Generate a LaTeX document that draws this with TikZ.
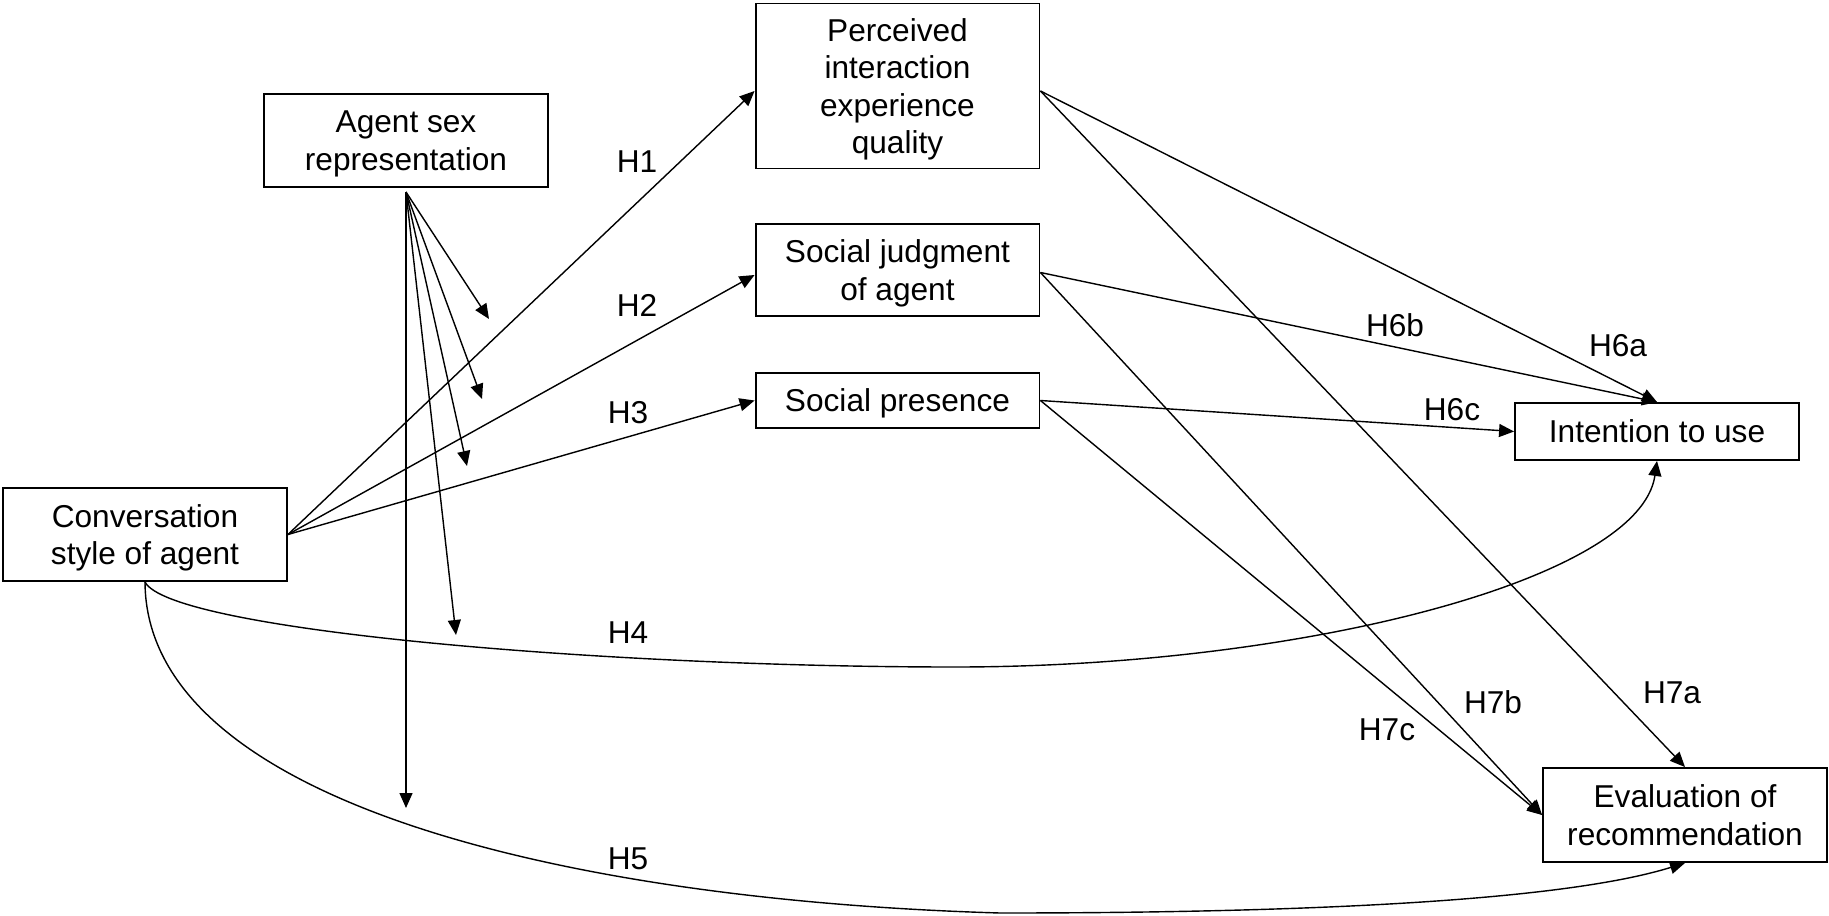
\documentclass[tikz,border=0pt]{standalone}
\usepackage{fontspec}
\setmainfont{Liberation Sans}
\usepackage{tikz}
\usetikzlibrary{arrows.meta}

\tikzset{
  box/.style={draw, line width=1.1pt, minimum width=5.68cm, align=center,
    inner sep=2pt, text depth=0pt, font=\fontsize{18}{21.2}\selectfont},
  hyp/.style={font=\fontsize{18}{21.2}\selectfont},
  arr/.style={line width=0.8pt, -{Triangle[length=0.3cm,width=0.26cm]}}
}

\begin{document}
\begin{tikzpicture}[x=0.02cm, y=-0.02cm]
    \useasboundingbox (0,0) rectangle (1829,916);
        % Boxes
        \node[box, minimum height=1.86cm] (sex) at (406,140.5) {Agent sex\\representation};
        \node[box, minimum height=1.86cm] (conv) at (145,534.5) {Conversation\\style of agent};
        \node[box, minimum height=3.3cm] (piq) at (897.5,86) {Perceived\\interaction\\experience\\quality};
        \node[box, minimum height=1.84cm] (sj) at (897.5,270) {Social judgment\\of agent};
        \node[box, minimum height=1.1cm] (sp) at (897.5,400.5) {Social presence};
        \node[box, minimum height=1.14cm] (itu) at (1657,431.5) {Intention to use};
        \node[box, minimum height=1.88cm] (eval) at (1685,815) {Evaluation of\\recommendation};
        % Paths from conversation style
        \draw[arr] (conv.east) -- (piq.182);
        \draw[arr] (conv.east) -- (sj.182);
        \draw[arr] (conv.east) -- (sp.west);
        \draw[arr] (conv.south) .. controls (170,630) and (600,667) .. (955,667)
            .. controls (1300,667) and (1640,580) .. (itu.south);
        \draw[arr] (conv.south) .. controls (146,800) and (560,900) .. (1000,913)
            .. controls (1250,913) and (1550,905) .. (eval.south);
        % Paths to outcomes
        \draw[arr] (piq.-2) -- (itu.north);
        \draw[arr] (piq.-2) -- (eval.north);
        \draw[arr] (sj.-1) -- (itu.north);
        \draw[arr] (sj.-1) -- (eval.west);
        \draw[arr] (sp.east) -- (itu.west);
        \draw[arr] (sp.east) -- (eval.west);
        % Moderation by agent sex
        \coordinate (msrc) at (406,192);
        \coordinate (m1) at (489,319);
        \coordinate (m2) at (482,399);
        \coordinate (m3) at (467,466);
        \coordinate (m4) at (456,635);
        \coordinate (m5) at (406,808);
        \foreach \m in {m1,m2,m3,m4,m5}
            \draw[arr] (msrc) -- (\m);
        % Hypothesis labels
        \node[hyp] (h1) at (637,162) {H1};
        \node[hyp] (h2) at (637,305) {H2};
        \node[hyp] (h3) at (628,413) {H3};
        \node[hyp] (h4) at (628,633) {H4};
        \node[hyp] (h5) at (628,859) {H5};
        \node[hyp] (h6a) at (1618,346) {H6a};
        \node[hyp] (h6b) at (1395,325) {H6b};
        \node[hyp] (h6c) at (1452,410) {H6c};
        \node[hyp] (h7a) at (1672,693) {H7a};
        \node[hyp] (h7b) at (1493,702) {H7b};
        \node[hyp] (h7c) at (1387,730) {H7c};
    \end{tikzpicture}
\end{document}
